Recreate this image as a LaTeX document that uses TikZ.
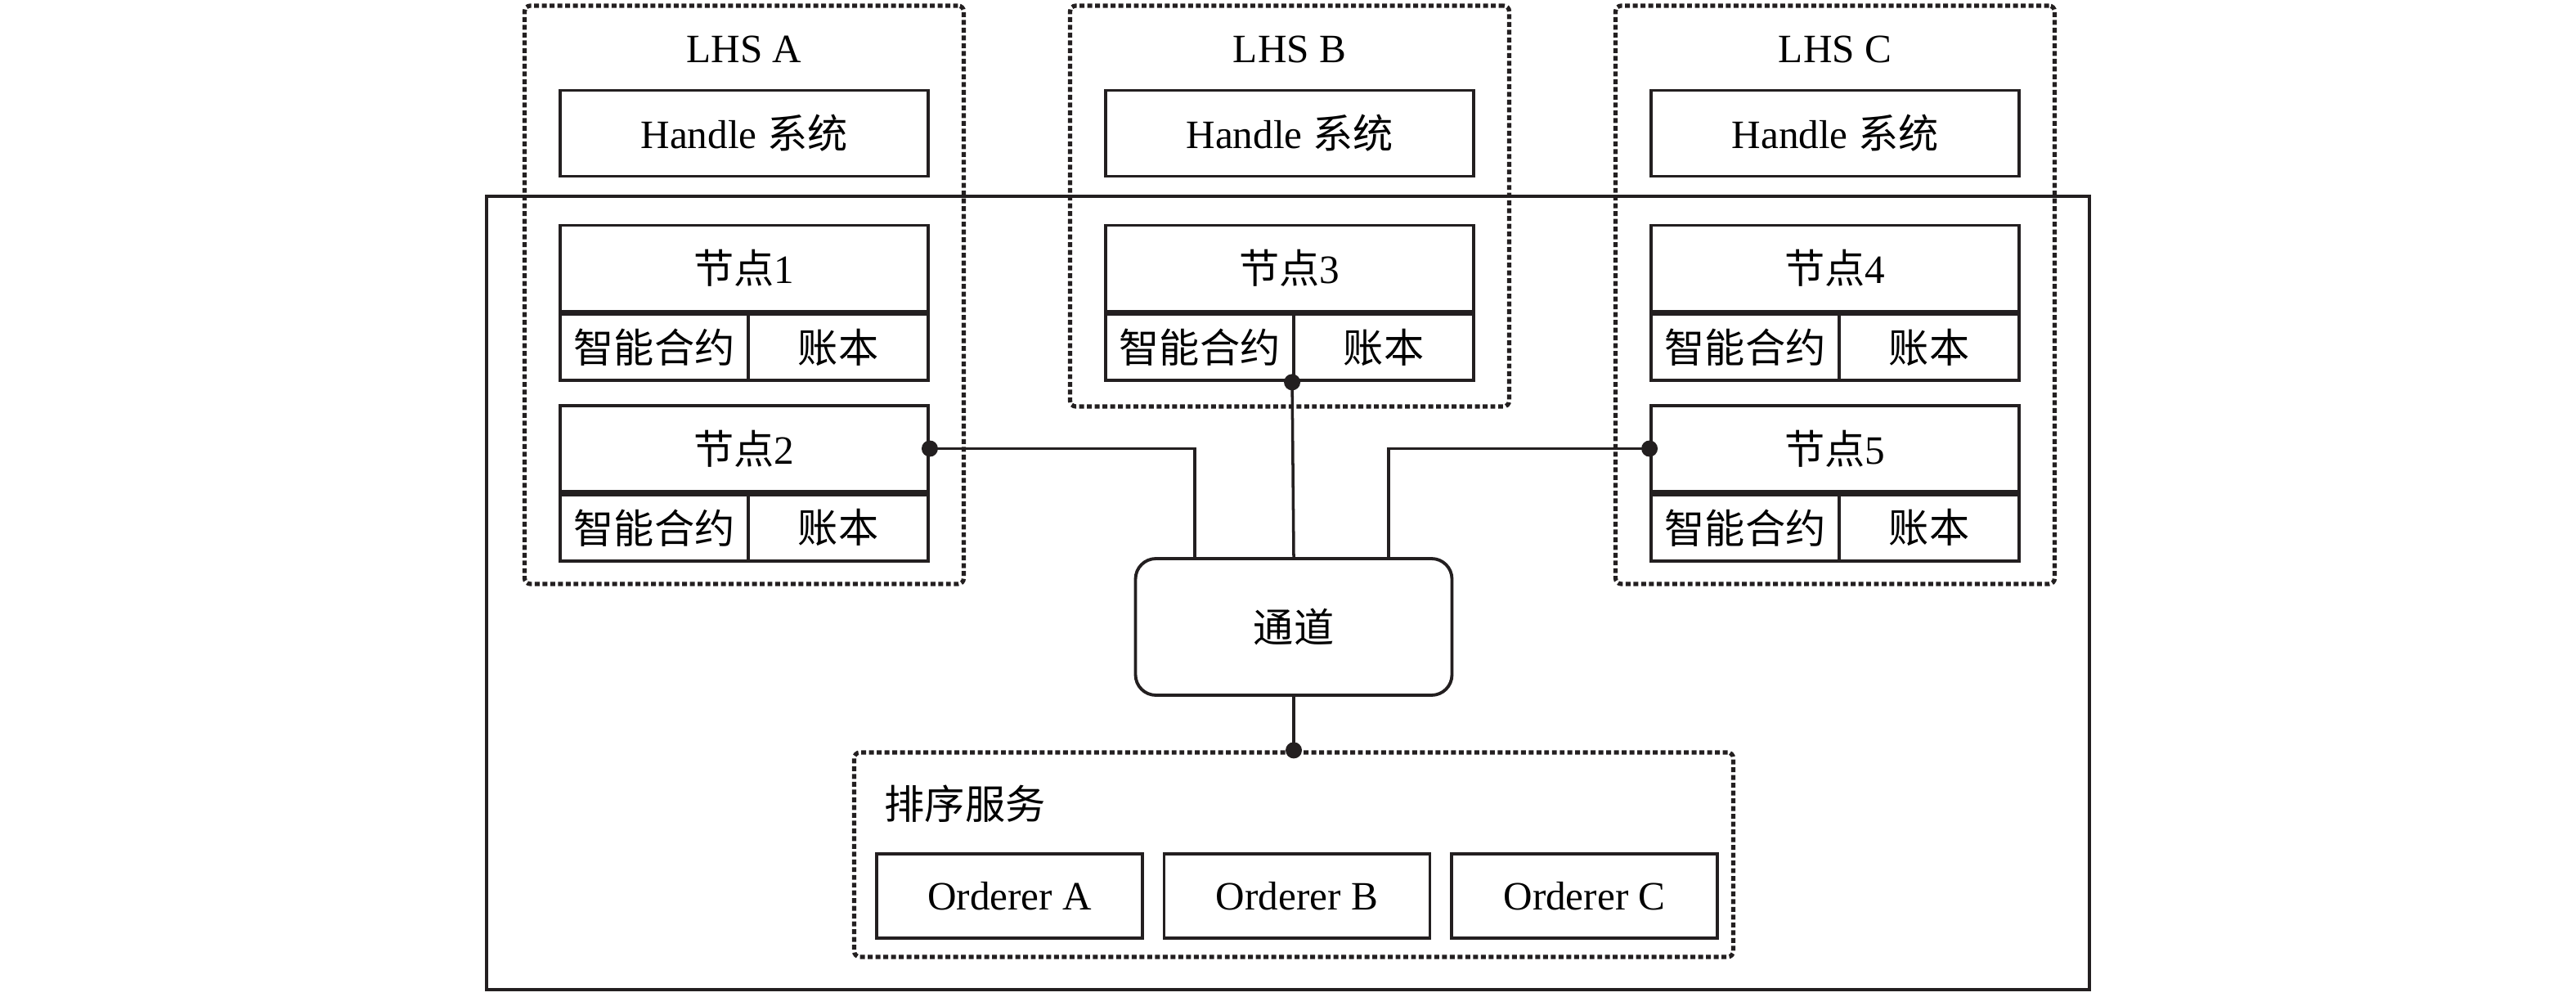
\documentclass[tikz,border=0pt]{standalone}
\usepackage{fontspec}
\setmainfont{Liberation Serif}
\newfontfamily\cjk{Noto Sans CJK SC}
\usetikzlibrary{positioning, calc}
\definecolor{cline}{HTML}{231F20}

\begin{document}
\begin{tikzpicture}[
    font=\fontsize{14}{16}\selectfont,
    box/.style={rectangle, minimum width=4.5cm, minimum height=1.05cm,
                draw=cline, line width=1.1pt, inner sep=0pt, align=center},
    cell/.style={rectangle, minimum height=0.81cm,
                 draw=cline, line width=1.1pt, inner sep=0pt},
    lhs/.style={rectangle, minimum width=5.37cm, draw=cline, line width=1.5pt,
                dash pattern=on 1.7pt off 1pt, rounded corners=2pt, inner sep=0pt},
    orderer/.style={rectangle, minimum width=3.25cm, minimum height=1.03cm,
                    draw=cline, line width=1.1pt, inner sep=0pt},
    link/.style={draw=cline, line width=1pt},
    jdot/.style={circle, fill=cline, inner sep=0pt, minimum size=0.2cm},
]
\useasboundingbox (0,0) rectangle (31.5,12.18);

% network frame
\node[draw=cline, line width=1pt, minimum width=19.6cm, minimum height=9.7cm] (net) at (15.75,4.93) {};

% LHS containers
\node[lhs, minimum height=7.07cm] (lhsA) at (9.1,8.575)  {};
\node[lhs, minimum height=4.9cm]  (lhsB) at (15.77,9.66) {};
\node[lhs, minimum height=7.07cm] (lhsC) at (22.44,8.575) {};

\node (labA) at (9.1,11.58)   {LHS A};
\node (labB) at (15.77,11.58) {LHS B};
\node (labC) at (22.44,11.58) {LHS C};

\node[box] (hA) at (9.1,10.55)   {Handle {\cjk 系统}};
\node[box] (hB) at (15.77,10.55) {Handle {\cjk 系统}};
\node[box] (hC) at (22.44,10.55) {Handle {\cjk 系统}};

% peers
\node[box] (n1) at (9.1,8.9) {{\cjk 节点}1};
\node[cell, minimum width=2.3cm, anchor=north west] (sc1) at (n1.south west) {\cjk 智能合约};
\node[cell, minimum width=2.2cm, anchor=north east] (lg1) at (n1.south east) {\cjk 账本};

\node[box] (n2) at (9.1,6.695) {{\cjk 节点}2};
\node[cell, minimum width=2.3cm, anchor=north west] (sc2) at (n2.south west) {\cjk 智能合约};
\node[cell, minimum width=2.2cm, anchor=north east] (lg2) at (n2.south east) {\cjk 账本};

\node[box] (n3) at (15.77,8.9) {{\cjk 节点}3};
\node[cell, minimum width=2.3cm, anchor=north west] (sc3) at (n3.south west) {\cjk 智能合约};
\node[cell, minimum width=2.2cm, anchor=north east] (lg3) at (n3.south east) {\cjk 账本};

\node[box] (n4) at (22.44,8.9) {{\cjk 节点}4};
\node[cell, minimum width=2.3cm, anchor=north west] (sc4) at (n4.south west) {\cjk 智能合约};
\node[cell, minimum width=2.2cm, anchor=north east] (lg4) at (n4.south east) {\cjk 账本};

\node[box] (n5) at (22.44,6.695) {{\cjk 节点}5};
\node[cell, minimum width=2.3cm, anchor=north west] (sc5) at (n5.south west) {\cjk 智能合约};
\node[cell, minimum width=2.2cm, anchor=north east] (lg5) at (n5.south east) {\cjk 账本};

% channel and ordering service
\node[draw=cline, line width=1.1pt, rounded corners=0.25cm, minimum width=3.87cm,
      minimum height=1.67cm] (ch) at (15.82,4.515) {\cjk 通道};

\node[lhs, minimum width=10.75cm, minimum height=2.5cm] (ord) at (15.82,1.73) {};
\node[anchor=west, inner sep=0pt] (ordlab) at (10.81,2.35) {\cjk 排序服务};

\node[orderer] (oA) at (12.345,1.225) {Orderer A};
\node[orderer] (oB) at (15.86,1.225)  {Orderer B};
\node[orderer] (oC) at (19.375,1.225) {Orderer C};

% links
\draw[link] (n2.east) -| ([xshift=-1.21cm]ch.north);
\draw[link] (n5.west) -| ([xshift=1.16cm]ch.north);
\draw[link] (lg3.south west) -- (ch.north);
\draw[link] (ch.south) -- (ord.north);

\node[jdot] (d2) at (n2.east) {};
\node[jdot] (d3) at (lg3.south west) {};
\node[jdot] (d5) at (n5.west) {};
\node[jdot] (dord) at (ord.north) {};
\end{tikzpicture}
\end{document}
